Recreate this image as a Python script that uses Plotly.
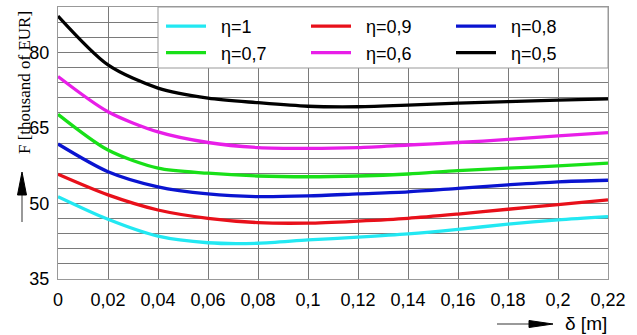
import plotly.graph_objects as go

delta = [0, 0.02, 0.04, 0.06, 0.08, 0.10, 0.12, 0.14, 0.16, 0.18, 0.20, 0.22]
x_tick_vals = [0, 0.02, 0.04, 0.06, 0.08, 0.10, 0.12, 0.14, 0.16, 0.18, 0.20, 0.22]
x_tick_text = ["0", "0,02", "0,04", "0,06", "0,08", "0,1", "0,12", "0,14", "0,16", "0,18", "0,2", "0,22"]
y_tick_vals = [35, 50, 65, 80]

eta_1_0 = [51.35, 46.85, 43.5, 42.2, 42.1, 42.75, 43.3, 43.95, 44.85, 45.9, 46.75, 47.4]
eta_0_9 = [55.8, 51.7, 48.7, 47.05, 46.2, 46.1, 46.5, 47.05, 47.9, 48.85, 49.75, 50.7]
eta_0_8 = [61.8, 56.3, 53.3, 51.9, 51.35, 51.5, 51.9, 52.3, 53.0, 53.7, 54.3, 54.6]
eta_0_7 = [67.7, 60.6, 57.0, 56.0, 55.45, 55.3, 55.45, 55.85, 56.5, 57.0, 57.45, 58.0]
eta_0_6 = [75.2, 68.2, 64.2, 62.1, 61.1, 60.95, 61.1, 61.6, 62.1, 62.7, 63.4, 64.05]
eta_0_5 = [87.2, 77.5, 72.9, 70.9, 70.0, 69.3, 69.2, 69.5, 69.9, 70.2, 70.5, 70.75]

series = [
    ("η=1", eta_1_0, "#22e8f2"),
    ("η=0,9", eta_0_9, "#e8101a"),
    ("η=0,8", eta_0_8, "#0a14d0"),
    ("η=0,7", eta_0_7, "#18e018"),
    ("η=0,6", eta_0_6, "#e81ee8"),
    ("η=0,5", eta_0_5, "#000000"),
]

fig = go.Figure()
for name, vals, col in series:
    fig.add_trace(go.Scatter(x=delta, y=vals, name="\u00a0\u00a0" + name, mode="lines",
                             line=dict(color=col, width=3.3, shape="spline", smoothing=0.8)))

# plot area pixel geometry
L, R, T, B = 58, 608, 7, 279
W, H = R - L, B - T
def px(xp):
    return (xp - L) / W
def py(yp):
    return (B - yp) / H

grid_col = "#7a7a7a"
fig.update_layout(
    width=637, height=335,
    margin=dict(l=L, r=637 - R, t=T, b=335 - B, autoexpand=False),
    paper_bgcolor="white", plot_bgcolor="white",
    font=dict(family="Liberation Sans, Arial", size=17, color="black"),
    xaxis=dict(range=[0, 0.22], tickvals=x_tick_vals, ticktext=x_tick_text,
               showgrid=True, gridcolor=grid_col, gridwidth=1,
               showline=True, linecolor="#999999", linewidth=1, mirror=True,
               zeroline=False, ticks="", ticklabelstandoff=4,
               tickfont=dict(size=18)),
    yaxis=dict(range=[35, 89], tickvals=y_tick_vals,
               showgrid=True, gridcolor=grid_col, gridwidth=1,
               minor=dict(dtick=3, tick0=35, showgrid=True, gridcolor=grid_col, gridwidth=1),
               showline=True, linecolor="#999999", linewidth=1, mirror=True,
               zeroline=False, ticks="", ticklabelstandoff=4,
               tickfont=dict(size=18)),
    legend=dict(orientation="h", x=px(161), xanchor="left", y=py(8), yanchor="top",
                entrywidth=90, itemwidth=40, bgcolor="rgba(0,0,0,0)",
                font=dict(size=18), tracegroupgap=0, traceorder="normal"),
    showlegend=True,
)

# legend box
fig.add_shape(type="rect", xref="paper", yref="paper",
              x0=px(158), x1=1, y0=py(68), y1=1,
              fillcolor="white", line=dict(color="#999999", width=1), layer="above")

# y title
fig.add_annotation(text="F [thousand of EUR]", xref="paper", yref="paper",
                   x=px(24), y=py(83), textangle=-90, showarrow=False,
                   xanchor="center", yanchor="middle",
                   font=dict(family="Liberation Serif, Times New Roman", size=17, color="black"))
# x title
fig.add_annotation(text="δ [m]", xref="paper", yref="paper",
                   x=px(586), y=py(323), showarrow=False,
                   xanchor="center", yanchor="middle",
                   font=dict(family="Liberation Sans, Arial", size=19, color="black"))

# y arrow
fig.add_shape(type="line", xref="paper", yref="paper",
              x0=px(22), x1=px(22), y0=py(222), y1=py(192),
              line=dict(color="#777777", width=1.5))
fig.add_shape(type="path", xref="paper", yref="paper",
              path=f"M {px(17.5)} {py(195)} L {px(22)} {py(172)} L {px(26.5)} {py(195)} Z",
              fillcolor="black", line=dict(color="black", width=1))
# x arrow
fig.add_shape(type="line", xref="paper", yref="paper",
              x0=px(497), x1=px(532), y0=py(324), y1=py(324),
              line=dict(color="#777777", width=1.5))
fig.add_shape(type="path", xref="paper", yref="paper",
              path=f"M {px(529)} {py(320.5)} L {px(553)} {py(324)} L {px(529)} {py(327.5)} Z",
              fillcolor="black", line=dict(color="black", width=1))

fig.write_html("out.html")
